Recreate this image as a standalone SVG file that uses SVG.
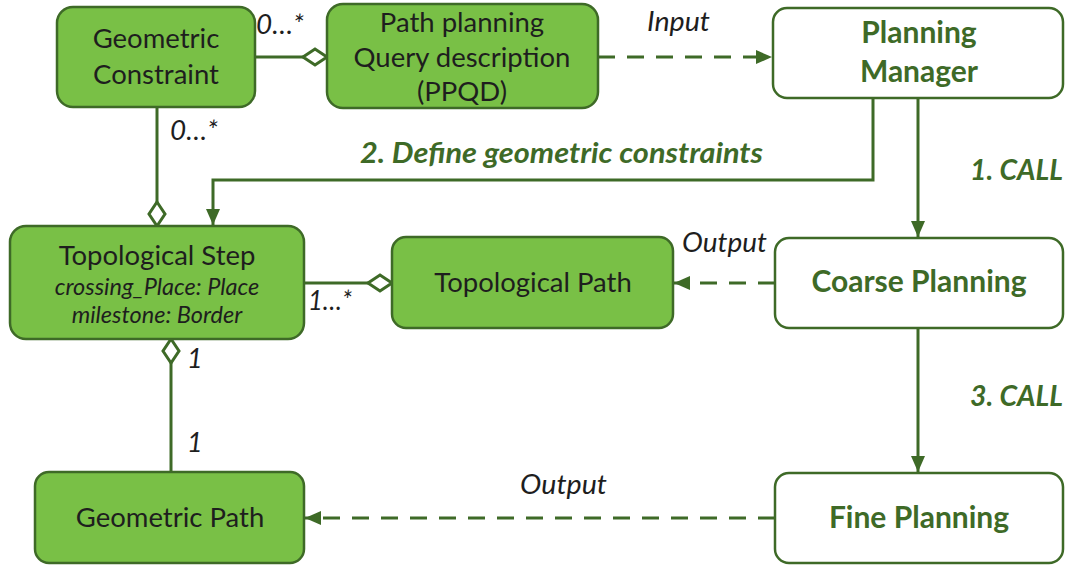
<svg xmlns="http://www.w3.org/2000/svg" width="1066" height="565" viewBox="0 0 1066 565">
<style>
text{font-family:Lato,"Liberation Sans",sans-serif}
.g{fill:#79c046;stroke:#3e6a27;stroke-width:2.5}
.w{fill:#fff;stroke:#3e6a27;stroke-width:2.5}
.t{font-size:27.5px;fill:#1e1e1e;text-anchor:middle}
.tb{font-size:30px;font-weight:bold;fill:#3e6a27;text-anchor:middle}
.ti{font-size:23.5px;font-style:italic;fill:#1e1e1e;text-anchor:middle}
.lab{font-size:27px;font-style:italic;fill:#1e1e1e}
.lg{font-size:28px;font-style:italic;font-weight:bold;fill:#3e6a27}
.ln{fill:none;stroke:#3e6a27;stroke-width:3}
.d{stroke-dasharray:17 12}
</style>
<defs>
<marker id="ah" markerUnits="userSpaceOnUse" markerWidth="16" markerHeight="16" viewBox="0 0 16 16" refX="16" refY="8" orient="auto">
<path d="M0,1 L16,8 L0,15 Z" fill="#3e6a27"/>
</marker>
<marker id="dia" markerUnits="userSpaceOnUse" markerWidth="28" markerHeight="22" viewBox="0 0 28 22" refX="26" refY="11" orient="auto">
<path d="M2,11 L14,3 L26,11 L14,19 Z" fill="#fff" stroke="#3e6a27" stroke-width="3"/>
</marker>
</defs>
<g id="connectors">
<line class="ln" x1="255" y1="57" x2="327" y2="57" marker-end="url(#dia)"/>
<line class="ln" x1="157" y1="107" x2="157" y2="226" marker-end="url(#dia)"/>
<line class="ln" x1="304" y1="283" x2="392" y2="283" marker-end="url(#dia)"/>
<line class="ln" x1="171" y1="472" x2="171" y2="339" marker-end="url(#dia)"/>
<line class="ln d" x1="598" y1="57" x2="772" y2="57" marker-end="url(#ah)"/>
<polyline class="ln" points="873,98 873,180 213,180 213,225" marker-end="url(#ah)"/>
<line class="ln" x1="918" y1="98" x2="918" y2="237" marker-end="url(#ah)"/>
<line class="ln" x1="918" y1="328" x2="918" y2="472" marker-end="url(#ah)"/>
<line class="ln d" x1="775" y1="283" x2="674" y2="283" marker-end="url(#ah)"/>
<line class="ln d" x1="775" y1="518" x2="305" y2="518" marker-end="url(#ah)"/>
<text class="lab" x="256" y="34" textLength="48" lengthAdjust="spacingAndGlyphs">0…*</text>
<text class="lab" x="170" y="140" textLength="48" lengthAdjust="spacingAndGlyphs">0…*</text>
<text class="lab" x="647" y="31" textLength="63" lengthAdjust="spacingAndGlyphs">Input</text>
<text class="lab" x="682" y="252" textLength="85" lengthAdjust="spacingAndGlyphs">Output</text>
<text class="lab" x="520" y="494" textLength="87" lengthAdjust="spacingAndGlyphs">Output</text>
<text class="lab" x="308" y="310" textLength="44" lengthAdjust="spacingAndGlyphs">1…*</text>
<text class="lab" x="187" y="368">1</text>
<text class="lab" x="187" y="452">1</text>
<text class="lg" x="360" y="163" textLength="403" lengthAdjust="spacingAndGlyphs">2. Define geometric constraints</text>
<text class="lg" x="970" y="180" textLength="93" lengthAdjust="spacingAndGlyphs">1. CALL</text>
<text class="lg" x="970" y="406" textLength="93" lengthAdjust="spacingAndGlyphs">3. CALL</text>
</g>
<g id="geometric-constraint">
<rect class="g" x="57" y="7" width="198" height="100" rx="16"/>
<text class="t" x="156" y="48">Geometric</text>
<text class="t" x="156" y="84">Constraint</text>
</g>
<g id="ppqd">
<rect class="g" x="327" y="4" width="271" height="104" rx="16"/>
<text class="t" x="462" y="32">Path planning</text>
<text class="t" x="462" y="67">Query description</text>
<text class="t" x="462" y="101">(PPQD)</text>
</g>
<g id="planning-manager">
<rect class="w" x="773" y="8" width="290" height="90" rx="14"/>
<text class="tb" x="919" y="43">Planning</text>
<text class="tb" x="919" y="82">Manager</text>
</g>
<g id="topological-step">
<rect class="g" x="10" y="226" width="294" height="113" rx="16"/>
<text class="t" x="157" y="265">Topological Step</text>
<text class="ti" x="157" y="295">crossing_Place: Place</text>
<text class="ti" x="157" y="323">milestone: Border</text>
</g>
<g id="topological-path">
<rect class="g" x="392" y="237" width="281" height="91" rx="14"/>
<text class="t" x="533" y="292">Topological Path</text>
</g>
<g id="coarse-planning">
<rect class="w" x="775" y="238" width="288" height="90" rx="14"/>
<text class="tb" x="919" y="292">Coarse Planning</text>
</g>
<g id="geometric-path">
<rect class="g" x="35" y="472" width="269" height="91" rx="14"/>
<text class="t" x="170" y="527">Geometric Path</text>
</g>
<g id="fine-planning">
<rect class="w" x="775" y="473" width="288" height="90" rx="14"/>
<text class="tb" x="919" y="528">Fine Planning</text>
</g>
</svg>
